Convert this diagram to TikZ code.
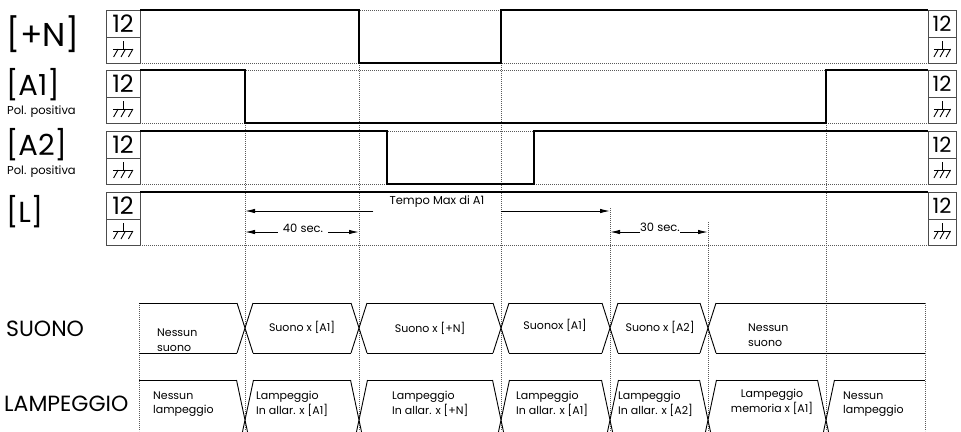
\documentclass[tikz,border=0pt]{standalone}
\usepackage{fontspec}
\setmainfont{Poppins}
\usetikzlibrary{arrows.meta, positioning}
\definecolor{guidecolor}{gray}{0.35}
\definecolor{framecolor}{gray}{0.3}
\tikzset{signal/.style={line width=2.4pt, line join=miter}}
\tikzset{guide/.style={draw=guidecolor, line width=0.7pt, dash pattern=on 0.7pt off 1.3pt}}
\tikzset{frame/.style={draw=framecolor, line width=0.9pt}}
\tikzset{phase/.style={draw=black, line width=0.9pt}}
\tikzset{timearrow/.style={line width=1pt, -{Latex[length=10pt,width=4.5pt]}}}
\tikzset{biglabel/.style={anchor=west, inner sep=0pt, font=\fontsize{29}{29}\selectfont}}
\tikzset{sublabel/.style={anchor=west, inner sep=0pt, font=\fontsize{11.5}{11.5}\selectfont}}
\tikzset{rowlabel/.style={anchor=west, inner sep=0pt, font=\fontsize{22}{22}\selectfont}}
\tikzset{state/.style={inner sep=0pt, font=\fontsize{11}{14.5}\selectfont, align=left}}
\tikzset{timelabel/.style={inner ysep=2pt, font=\fontsize{11.5}{11.5}\selectfont}}
% supply box: name, left x, top y, width, size of the 12
\newcommand{\supplybox}[5]{%
  \draw[frame] (#2,#3) rectangle ++(#4,53);
  \draw[frame] (#2,#3+27) -- ++(#4,0);
  \node[inner sep=0pt, font=\fontsize{#5}{#5}\selectfont] (#1) at (#2+#4/2,#3+14) {12};
  \draw[line width=0.9pt] (#2+#4/2,#3+31) -- ++(0,8) ++(-#4/3.4,0) -- ++(#4/1.7,0);
  \foreach \o in {-1,0,1}
    \draw[line width=0.9pt] (#2+#4/2+\o*#4/4.6+2.5,#3+39) -- ++(-4.5,8);
}
\begin{document}
\begin{tikzpicture}[x=1pt, y=-1pt]
	\useasboundingbox (0,0) rectangle (961,431);
	\clip (0,0) rectangle (961,431);
	\fill[white] (0,0) rectangle (961,431);
	
	%%% NODES %%%
	
	% SIGNAL NAMES
	\node[biglabel, font=\fontsize{33}{33}\selectfont] (nlabel) at (6,34) {[+N]};
	\node[biglabel] (aonelabel) at (6,85) {[A1]};
	\node[sublabel] (aonepol) at (7,112) {Pol. positiva};
	\node[biglabel] (atwolabel) at (6,145) {[A2]};
	\node[sublabel] (atwopol) at (7,172) {Pol. positiva};
	\node[biglabel] (llabel) at (6,212) {[L]};
	
	% SUPPLY BOXES
	\supplybox{nleft}{106}{10}{34}{24}
	\supplybox{aoneleft}{106}{70}{34}{24}
	\supplybox{atwoleft}{106}{131}{34}{24}
	\supplybox{lleft}{106}{192}{34}{24}
	\supplybox{nright}{928}{10}{28}{21}
	\supplybox{aoneright}{928}{70}{28}{21}
	\supplybox{atworight}{928}{131}{28}{21}
	\supplybox{lright}{928}{192}{28}{21}
	
	% GUIDES
	\foreach \t in {10,70,131,192}
		\draw[guide] (140,\t) -- (928,\t) (140,\t+53) -- (928,\t+53);
	\draw[guide] (245,123) -- (245,431);
	\draw[guide] (359,63) -- (359,431);
	\draw[guide] (501,63) -- (501,431);
	\draw[guide] (610,208) -- (610,431);
	\draw[guide] (708,222) -- (708,431);
	\draw[guide] (826,123) -- (826,431);
	\draw[guide] (139,303) -- (139,431);
	\draw[guide] (925,303) -- (925,431);
	
	% WAVEFORMS
	\draw[signal] (140,10) -- (359,10) -- (359,63) -- (501,63) -- (501,10) -- (928,10);
	\draw[signal] (140,70) -- (245,70) -- (245,123) -- (826,123) -- (826,70) -- (928,70);
	\draw[signal] (140,131) -- (387,131) -- (387,184) -- (534,184) -- (534,131) -- (928,131);
	\draw[signal] (140,192) -- (928,192);
	
	% TIMES
	\node[timelabel, inner xsep=16pt] (tmax) at (437,202) {Tempo Max di A1};
	\coordinate (tmaxL) at (245,211);
	\coordinate (tmaxR) at (610,211);
	\node[timelabel, inner xsep=5pt] (sec40) at (303,228) {40 sec.};
	\coordinate (sec40L) at (245,232);
	\coordinate (sec40R) at (359,232);
	\node[timelabel, inner xsep=0pt] (sec30) at (660,227) {30 sec.};
	\coordinate (sec30L) at (610,232);
	\coordinate (sec30R) at (708,232);
	
	% ROW NAMES
	\node[rowlabel] (suono) at (6,329) {SUONO};
	\node[rowlabel] (lamp) at (4,404) {LAMPEGGIO};
	
	% SUONO STATES
	\foreach \x in {245,359,501,610,708}
		\draw[phase] (\x-8,303) -- (\x+8,353) (\x-8,353) -- (\x+8,303);
	\foreach \a/\b in {139/237,253/351,367/493,509/602,618/700,716/925}
		\draw[phase] (\a,303) -- (\b,303) (\a,353) -- (\b,353);
	\node[state, anchor=west] (snone) at (157,340) {Nessun\\suono};
	\node[state] (saone) at (302,327) {Suono x [A1]};
	\node[state] (sn) at (430,328) {Suono x [+N]};
	\node[state] (saoneb) at (555,325) {Suonox [A1]};
	\node[state] (satwo) at (660,327) {Suono x [A2]};
	\node[state, anchor=west] (snoneb) at (748,335) {Nessun\\suono};
	
	% LAMPEGGIO STATES
	\foreach \x in {245,359,501,610,708,826}
		\draw[phase] (\x-8.5,380) -- (\x+8.5,460) (\x-8.5,460) -- (\x+8.5,380);
	\foreach \a/\b in {139/236.5,253.5/350.5,367.5/492.5,509.5/601.5,618.5/699.5,716.5/817.5,834.5/925}
		\draw[phase] (\a,380) -- (\b,380);
	\node[state, anchor=west] (lnone) at (153,404) {Nessun\\lampeggio};
	\node[state, anchor=west] (laone) at (256,404) {Lampeggio\\In allar. x [A1]};
	\node[state, anchor=west] (ln) at (392,404) {Lampeggio\\In allar. x [+N]};
	\node[state, anchor=west] (laoneb) at (516,404) {Lampeggio\\In allar. x [A1]};
	\node[state, anchor=west] (latwo) at (618,404) {Lampeggio\\In allar. x [A2]};
	\node[state, align=center] (lmem) at (772,402) {Lampeggio\\memoria x [A1]};
	\node[state, anchor=west] (lnoneb) at (843,404) {Nessun\\lampeggio};
	
	%%% ARROWS %%%
	
	\draw[timearrow] (tmax.west |- tmaxL) -- (tmaxL);
	\draw[timearrow] (tmax.east |- tmaxR) -- (tmaxR);
	\draw[timearrow] (sec40.west |- sec40L) -- (sec40L);
	\draw[timearrow] (sec40.east |- sec40R) -- (sec40R);
	\draw[timearrow] (sec30.west |- sec30L) -- (sec30L);
	\draw[timearrow] (sec30.east |- sec30R) -- (sec30R);
	
\end{tikzpicture}
\end{document}
